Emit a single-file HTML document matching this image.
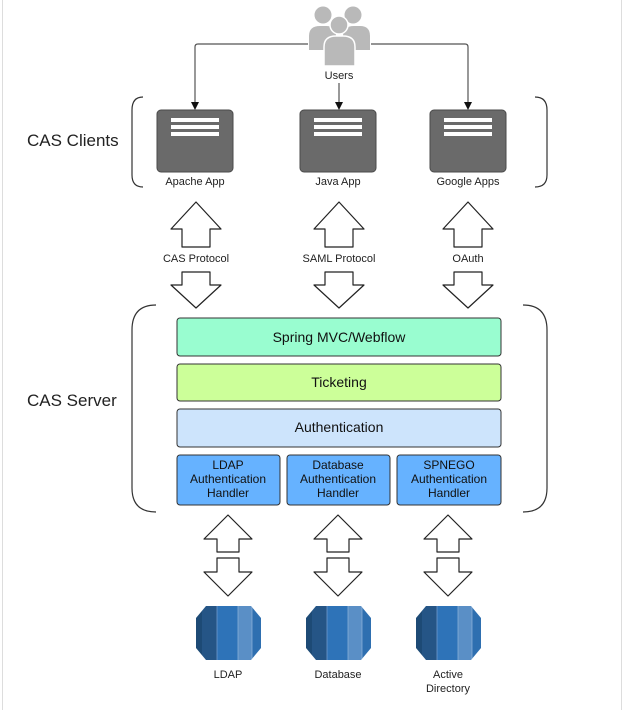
<!DOCTYPE html>
<html><head><meta charset="utf-8"><style>
html,body{margin:0;padding:0;background:#fff;}
svg{display:block;font-family:"Liberation Sans",sans-serif;}
</style></head><body>
<svg width="630" height="710" viewBox="0 0 630 710" xmlns="http://www.w3.org/2000/svg">
<defs>
<path id="up" d="M0,0 L25,27 L14,27 L14,45 L-14,45 L-14,27 L-25,27 Z" fill="#fff" stroke="#222" stroke-width="1.2" stroke-linejoin="round"/>
<path id="dn" d="M0,36 L25,13 L14,13 L14,0 L-14,0 L-14,13 L-25,13 Z" fill="#fff" stroke="#222" stroke-width="1.2" stroke-linejoin="round"/>
<path id="upS" d="M0,0 L24,24 L11,24 L11,37 L-11,37 L-11,24 L-24,24 Z" fill="#fff" stroke="#222" stroke-width="1.2" stroke-linejoin="round"/>
<path id="dnS" d="M0,38 L24,14 L11,14 L11,0 L-11,0 L-11,14 L-24,14 Z" fill="#fff" stroke="#222" stroke-width="1.2" stroke-linejoin="round"/>
<clipPath id="cyl"><path d="M10,0 L55,0 L65,12 L65,42 L55,54 L10,54 L0,42 L0,12 Z"/></clipPath>
<g id="db">
<g clip-path="url(#cyl)">
<rect x="0" y="0" width="6" height="54" fill="#1d4a75"/>
<rect x="6" y="0" width="15" height="54" fill="#255586"/>
<rect x="21" y="0" width="21" height="54" fill="#2e73b8"/>
<rect x="42" y="0" width="14" height="54" fill="#5a8fc6"/>
<rect x="56" y="0" width="9" height="54" fill="#2e6fb0"/>
<line x1="21" y1="0" x2="21" y2="54" stroke="#6f9acb" stroke-width="0.8"/>
<line x1="42" y1="0" x2="42" y2="54" stroke="#8ab0d8" stroke-width="0.8"/>
<line x1="56" y1="0" x2="56" y2="54" stroke="#8ab0d8" stroke-width="0.8"/>
</g></g>
<g id="app">
<rect x="0" y="0" width="76" height="62" rx="4" fill="#6a6a6a" stroke="#4a4a4a"/>
<rect x="14" y="8" width="48" height="4" fill="#fff"/>
<rect x="14" y="15" width="48" height="4" fill="#fff"/>
<rect x="14" y="22" width="48" height="4" fill="#fff"/>
</g>
</defs>
<line x1="2.5" y1="0" x2="2.5" y2="710" stroke="#ddd"/>
<line x1="621.5" y1="0" x2="621.5" y2="710" stroke="#ddd"/>

<!-- users -->
<g fill="#b9b9b9">
<circle cx="323" cy="15" r="8.5"/><circle cx="353" cy="15" r="8.5"/>
<path d="M309,50 L309,36 Q309,26 320,26 L326,26 Q336,26 336,36 L336,50 Z"/>
<path d="M343,50 L343,36 Q343,26 354,26 L360,26 Q370,26 370,36 L370,50 Z"/>
<circle cx="339" cy="25" r="9" stroke="#fff" stroke-width="1.5"/>
<path d="M324,66 L324,47 Q324,36 336,36 L343,36 Q355,36 355,47 L355,66 Z" stroke="#fff" stroke-width="1.5"/>
</g>
<text x="339" y="79" font-size="11" text-anchor="middle" fill="#222">Users</text>
<g fill="none" stroke="#555" stroke-width="1.2">
<path d="M308,44 L198,44 Q195,44 195,47 L195,104"/>
<path d="M371,44 L465,44 Q468,44 468,47 L468,104"/>
<line x1="339" y1="83" x2="339" y2="104"/>
</g>
<g fill="#111">
<path d="M191,102 L199,102 L195,110 Z"/>
<path d="M335,102 L343,102 L339,110 Z"/>
<path d="M464,102 L472,102 L468,110 Z"/>
</g>

<use href="#app" x="157" y="110"/><use href="#app" x="300" y="110"/><use href="#app" x="430" y="110"/>
<g font-size="11" text-anchor="middle" fill="#222">
<text x="195" y="185">Apache App</text><text x="338" y="185">Java App</text><text x="468" y="185">Google Apps</text>
</g>
<text x="27" y="146" font-size="17" fill="#222">CAS Clients</text>
<text x="27" y="406" font-size="17" fill="#222">CAS Server</text>
<g fill="none" stroke="#333" stroke-width="1.2">
<path d="M143,97 Q132,97 132,110 L132,175 Q132,187 143,187"/>
<path d="M535,97 Q547,97 547,110 L547,175 Q547,187 535,187"/>
<path d="M156,305 Q132,305 132,330 L132,488 Q132,512 156,512"/>
<path d="M523,305 Q547,305 547,330 L547,488 Q547,512 523,512"/>
</g>

<use href="#up" x="196" y="202"/><use href="#up" x="339" y="202"/><use href="#up" x="468" y="202"/>
<use href="#dn" x="196" y="272"/><use href="#dn" x="339" y="272"/><use href="#dn" x="468" y="272"/>
<g font-size="11" text-anchor="middle" fill="#222">
<text x="196" y="262">CAS Protocol</text><text x="339" y="262">SAML Protocol</text><text x="468" y="262">OAuth</text>
</g>

<rect x="177" y="318" width="324" height="38" rx="3" fill="#99fdd0" stroke="#333"/>
<rect x="177" y="364" width="324" height="37" rx="3" fill="#ccff99" stroke="#333"/>
<rect x="177" y="409" width="324" height="38" rx="3" fill="#cde4fc" stroke="#333"/>
<g font-size="14" text-anchor="middle" fill="#111">
<text x="339" y="342">Spring MVC/Webflow</text>
<text x="339" y="387">Ticketing</text>
<text x="339" y="432">Authentication</text>
</g>
<rect x="177" y="455" width="103" height="50" rx="3" fill="#66b2ff" stroke="#333"/>
<rect x="287" y="455" width="103" height="50" rx="3" fill="#66b2ff" stroke="#333"/>
<rect x="397" y="455" width="104" height="50" rx="3" fill="#66b2ff" stroke="#333"/>
<g font-size="12" text-anchor="middle" fill="#111">
<text x="228" y="469">LDAP</text><text x="228" y="483">Authentication</text><text x="228" y="497">Handler</text>
<text x="338" y="469">Database</text><text x="338" y="483">Authentication</text><text x="338" y="497">Handler</text>
<text x="449" y="469">SPNEGO</text><text x="449" y="483">Authentication</text><text x="449" y="497">Handler</text>
</g>

<use href="#upS" x="228" y="515"/><use href="#upS" x="338" y="515"/><use href="#upS" x="448" y="515"/>
<use href="#dnS" x="228" y="558"/><use href="#dnS" x="338" y="558"/><use href="#dnS" x="448" y="558"/>

<use href="#db" x="196" y="606"/><use href="#db" x="306" y="606"/><use href="#db" x="416" y="606"/>
<g font-size="11" text-anchor="middle" fill="#222">
<text x="228" y="678">LDAP</text><text x="338" y="678">Database</text>
<text x="448" y="678">Active</text><text x="448" y="692">Directory</text>
</g>
</svg>
</body></html>
